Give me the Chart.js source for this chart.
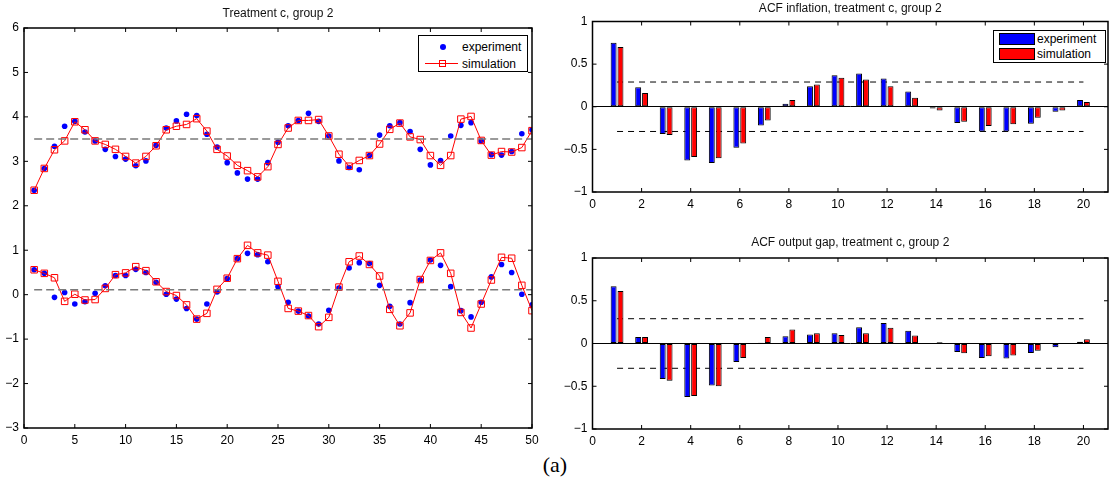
<!DOCTYPE html>
<html lang="en">

<head>
    <meta charset="UTF-8" />
    <title>Treatment c, group 2</title>
    <script src="https://cdn.jsdelivr.net/npm/chart.js"></script>
    <style>
        body { margin: 0; background: #fff; }
        #wrap { position: relative; width: 1110px; height: 490px; overflow: hidden; }
        canvas { position: absolute; }
        .leg { position: absolute; box-sizing: border-box; border: 1px solid #000; background: #fff;
               font: 12px "Liberation Sans", Arial, sans-serif; color: #000; }
        .leg span { position: absolute; }
        .txt { line-height: 14px; margin-top: -7px; }
        #cap { position: absolute; left: 525px; top: 452px; width: 60px; text-align: center;
               font: 22px "Liberation Serif", "DejaVu Serif", serif; }
    </style>
</head>

<body>
    <div id="wrap">
        <canvas id="main" width="560" height="450" style="left:0;top:0"></canvas>
        <canvas id="acf1" width="550" height="214" style="left:560px;top:0"></canvas>
        <canvas id="acf2" width="550" height="221" style="left:560px;top:230px"></canvas>

        <div class="leg" style="left:418px;top:35px;width:110px;height:37px;">
            <span style="left:21px;top:8px;width:6px;height:6px;border-radius:50%;background:#0000ff"></span>
            <span class="txt" style="left:43px;top:11px">experiment</span>
            <span style="left:6px;top:27px;width:33px;height:1px;background:#ff0000"></span>
            <span style="left:20px;top:24px;width:5px;height:5px;border:1px solid #ff0000"></span>
            <span class="txt" style="left:43px;top:28px">simulation</span>
        </div>
        <div class="leg" style="left:993px;top:30px;width:113px;height:33px;">
            <span style="left:5px;top:2px;width:34px;height:10px;background:#0000ff;border:1px solid #000"></span>
            <span class="txt" style="left:43px;top:8px">experiment</span>
            <span style="left:5px;top:17px;width:34px;height:10px;background:#ff0000;border:1px solid #000"></span>
            <span class="txt" style="left:43px;top:23px">simulation</span>
        </div>
        <div id="cap">(a)</div>
    </div>

    <script>
        "use strict";
        // periods 1..50
        const periods = [1, 2, 3, 4, 5, 6, 7, 8, 9, 10, 11, 12, 13, 14, 15, 16, 17, 18, 19, 20,
            21, 22, 23, 24, 25, 26, 27, 28, 29, 30, 31, 32, 33, 34, 35, 36, 37, 38, 39, 40,
            41, 42, 43, 44, 45, 46, 47, 48, 49, 50];
        // inflation (upper band)
        const inflExp = [2.35, 2.84, 3.34, 3.79, 3.90, 3.66, 3.46, 3.27, 3.11, 3.05,
            2.90, 3.01, 3.36, 3.75, 3.91, 4.06, 4.03, 3.61, 3.32, 2.97,
            2.74, 2.60, 2.60, 2.97, 3.43, 3.80, 3.92, 4.08, 3.90, 3.57,
            3.01, 2.86, 2.81, 3.13, 3.59, 3.80, 3.87, 3.67, 3.27, 2.92,
            3.02, 3.57, 3.81, 3.87, 3.46, 3.15, 3.14, 3.22, 3.62, 3.71];
        const inflSim = [2.35, 2.84, 3.26, 3.46, 3.89, 3.71, 3.46, 3.38, 3.27, 3.11,
            2.96, 3.11, 3.35, 3.71, 3.79, 3.83, 3.96, 3.68, 3.27, 3.12,
            2.91, 2.79, 2.65, 2.88, 3.38, 3.75, 3.92, 3.92, 3.94, 3.57,
            3.16, 2.89, 3.02, 3.13, 3.39, 3.72, 3.86, 3.55, 3.49, 3.13,
            2.91, 3.13, 3.95, 4.01, 3.47, 3.14, 3.22, 3.21, 3.31, 3.69];
        // output gap (lower band)
        const gapExp = [0.56, 0.48, -0.06, 0.05, -0.21, -0.16, 0.03, 0.20, 0.43, 0.43,
            0.57, 0.50, 0.28, 0.01, -0.10, -0.31, -0.55, -0.21, 0.06, 0.36,
            0.81, 0.93, 0.90, 0.74, 0.18, -0.17, -0.37, -0.48, -0.66, -0.35,
            0.15, 0.60, 0.72, 0.70, 0.21, -0.26, -0.66, -0.18, 0.33, 0.78,
            0.66, 0.18, -0.36, -0.50, -0.17, 0.40, 0.68, 0.50, 0.01, -0.23];
        const gapSim = [0.56, 0.48, 0.38, -0.15, 0.01, -0.12, -0.11, 0.14, 0.45, 0.49,
            0.63, 0.54, 0.29, 0.07, -0.02, -0.23, -0.55, -0.42, 0.12, 0.37,
            0.81, 1.11, 0.94, 0.89, 0.30, -0.31, -0.37, -0.47, -0.72, -0.51,
            0.17, 0.74, 0.87, 0.68, 0.42, -0.33, -0.70, -0.41, 0.34, 0.77,
            0.94, 0.48, -0.40, -0.75, -0.21, 0.33, 0.84, 0.82, 0.21, -0.36];
        const meanLevels = [3.5, 0.11];
        const meanSpan = [1, 50];

        // autocorrelations, lags 1..20
        const lags = [1, 2, 3, 4, 5, 6, 7, 8, 9, 10, 11, 12, 13, 14, 15, 16, 17, 18, 19, 20];
        const acfInflExp = [0.75, 0.23, -0.32, -0.63, -0.66, -0.48, -0.22, 0.035, 0.24, 0.37,
            0.39, 0.33, 0.18, -0.02, -0.19, -0.29, -0.29, -0.20, -0.06, 0.08];
        const acfInflSim = [0.70, 0.16, -0.33, -0.59, -0.605, -0.43, -0.16, 0.08, 0.26, 0.34,
            0.32, 0.24, 0.105, -0.045, -0.175, -0.225, -0.205, -0.13, -0.045, 0.055];
        const acfGapExp = [0.67, 0.075, -0.415, -0.625, -0.49, -0.215, 0.01, 0.085, 0.105, 0.12,
            0.19, 0.24, 0.15, -0.005, -0.10, -0.17, -0.175, -0.11, -0.045, 0.02];
        const acfGapSim = [0.615, 0.075, -0.435, -0.615, -0.50, -0.17, 0.075, 0.165, 0.12, 0.10,
            0.12, 0.185, 0.095, 0.015, -0.115, -0.15, -0.14, -0.085, 0.005, 0.05];
        const bandLevel = 0.29;
        const bandSpan = [1, 20];

        // tick labels
        const mainXTicks = [0, 5, 10, 15, 20, 25, 30, 35, 40, 45, 50];
        const mainYTicks = [-3, -2, -1, 0, 1, 2, 3, 4, 5, 6];
        const acfXTicks = [0, 2, 4, 6, 8, 10, 12, 14, 16, 18, 20];
        const acfYTicks = [-1, -0.5, 0, 0.5, 1];

        Chart.defaults.font.family = "'Liberation Sans', Arial, sans-serif";
        Chart.defaults.font.size = 12;
        Chart.defaults.color = "#000";

        const pts = (xs, ys) => xs.map((x, i) => ({ x: x, y: ys[i] }));
        const flat = (span, v) => span.map((x) => ({ x: x, y: v }));
        const minus = (v) => String(v).replace("-", "\u2212");

        // matlab style box with inward ticks
        const frame = {
            id: "frame",
            afterDatasetsDraw(chart) {
                const { ctx, chartArea: a, scales } = chart;
                const len = 4;
                ctx.save();
                ctx.strokeStyle = "#000";
                ctx.lineWidth = 1;
                ctx.beginPath();
                scales.x.ticks.forEach((t) => {
                    const p = scales.x.getPixelForValue(t.value);
                    ctx.moveTo(p, a.bottom); ctx.lineTo(p, a.bottom - len);
                    ctx.moveTo(p, a.top); ctx.lineTo(p, a.top + len);
                });
                scales.y.ticks.forEach((t) => {
                    const p = scales.y.getPixelForValue(t.value);
                    ctx.moveTo(a.left, p); ctx.lineTo(a.left + len, p);
                    ctx.moveTo(a.right, p); ctx.lineTo(a.right - len, p);
                });
                ctx.stroke();
                ctx.lineWidth = 1.5;
                ctx.strokeRect(a.left, a.top, a.right - a.left, a.bottom - a.top);
                ctx.restore();
            },
        };

        function axes(xr, xt, yr, yt, yWidth, zeroLine) {
            return {
                x: {
                    type: "linear", min: xr[0], max: xr[1], offset: false,
                    afterBuildTicks: (s) => { s.ticks = xt.map((v) => ({ value: v })); },
                    afterFit: (s) => { s.height = 22; },
                    grid: { display: false, drawTicks: false },
                    border: { display: false },
                    ticks: { padding: 5, maxRotation: 0, callback: minus },
                },
                y: {
                    min: yr[0], max: yr[1],
                    afterBuildTicks: (s) => { s.ticks = yt.map((v) => ({ value: v })); },
                    afterFit: (s) => { s.width = yWidth; },
                    grid: {
                        display: zeroLine, drawTicks: false, lineWidth: 1,
                        color: (c) => (c.tick && c.tick.value === 0 ? "#000" : "rgba(0,0,0,0)"),
                    },
                    border: { display: false },
                    ticks: { padding: 5, callback: minus },
                },
            };
        }

        function title(text, top, bottom) {
            return {
                display: true, text: text, fullSize: false, color: "#111",
                font: { size: 12, weight: "normal" },
                padding: { top: top, bottom: bottom },
            };
        }

        new Chart(document.getElementById("main"), {
            type: "line",
            data: {
                datasets: [
                    { data: pts(periods, inflExp), showLine: false, pointStyle: "circle", pointRadius: 2.8,
                      pointBackgroundColor: "#0000ff", pointBorderWidth: 0, order: 3 },
                    { data: pts(periods, gapExp), showLine: false, pointStyle: "circle", pointRadius: 2.8,
                      pointBackgroundColor: "#0000ff", pointBorderWidth: 0, order: 3 },
                    { data: pts(periods, inflSim), borderColor: "#ff0000", borderWidth: 1, pointStyle: "rect",
                      pointRadius: 4.6, pointBorderColor: "#ff0000", pointBackgroundColor: "rgba(0,0,0,0)",
                      pointBorderWidth: 1, order: 2 },
                    { data: pts(periods, gapSim), borderColor: "#ff0000", borderWidth: 1, pointStyle: "rect",
                      pointRadius: 4.6, pointBorderColor: "#ff0000", pointBackgroundColor: "rgba(0,0,0,0)",
                      pointBorderWidth: 1, order: 2 },
                    { data: flat(meanSpan, meanLevels[0]), borderColor: "#7a7a7a", borderWidth: 1.5,
                      borderDash: [8, 4], pointRadius: 0, order: 1 },
                    { data: flat(meanSpan, meanLevels[1]), borderColor: "#7a7a7a", borderWidth: 1.5,
                      borderDash: [8, 4], pointRadius: 0, order: 1 },
                ],
            },
            options: {
                responsive: false, animation: false,
                layout: { padding: { left: 0, right: 28, top: 0, bottom: 0 } },
                scales: axes([0, 50], mainXTicks, [-3, 6], mainYTicks, 24, false),
                plugins: { legend: { display: false }, tooltip: { enabled: false },
                    title: title("Treatment c, group 2", 6.8, 6.8) },
            },
            plugins: [frame],
        });

        function acfChart(id, name, exp, sim, top, bottom) {
            new Chart(document.getElementById(id), {
                type: "bar",
                data: {
                    datasets: [
                        { label: "experiment", data: pts(lags, exp), backgroundColor: "#0000ff",
                          borderColor: "#000", borderWidth: 1, borderSkipped: false,
                          categoryPercentage: 0.56, barPercentage: 0.86 },
                        { label: "simulation", data: pts(lags, sim), backgroundColor: "#ff0000",
                          borderColor: "#000", borderWidth: 1, borderSkipped: false,
                          categoryPercentage: 0.56, barPercentage: 0.86 },
                        { type: "line", data: flat(bandSpan, bandLevel), borderColor: "#000", borderWidth: 1,
                          borderDash: [6, 5], pointRadius: 0 },
                        { type: "line", data: flat(bandSpan, -bandLevel), borderColor: "#000", borderWidth: 1,
                          borderDash: [6, 5], pointRadius: 0 },
                    ],
                },
                options: {
                    responsive: false, animation: false,
                    layout: { padding: { left: 0, right: 2, top: 0, bottom: 0 } },
                    scales: axes([0, 21], acfXTicks, [-1, 1], acfYTicks, 32.5, true),
                    plugins: { legend: { display: false }, tooltip: { enabled: false },
                        title: title(name, top, bottom) },
                },
                plugins: [frame],
            });
        }

        acfChart("acf1", "ACF inflation, treatment c, group 2", acfInflExp, acfInflSim, 1.3, 5.8);
        acfChart("acf2", "ACF output gap, treatment c, group 2", acfGapExp, acfGapSim, 5.8, 7.8);
    </script>
</body>

</html>
